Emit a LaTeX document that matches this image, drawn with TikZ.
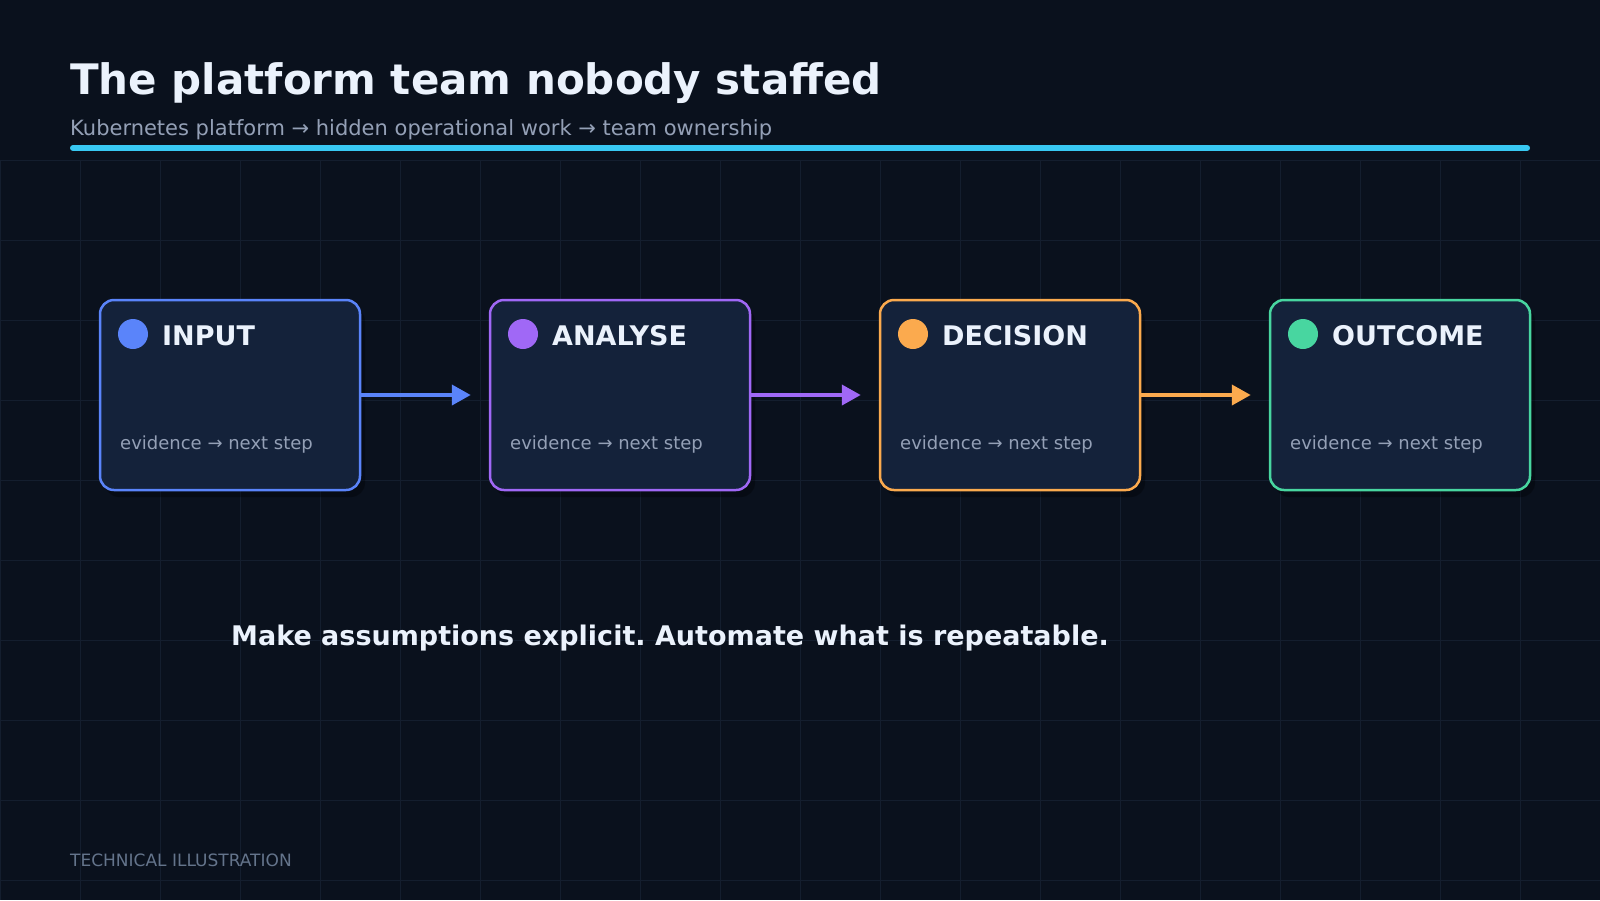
\documentclass[tikz,border=0pt]{standalone}
\usepackage{fontspec}
\setmainfont{DejaVu Sans}
\definecolor{bgnavy}{RGB}{10, 17, 29}
\definecolor{gridc}{RGB}{20, 30, 46}
\definecolor{boxfill}{RGB}{20, 34, 58}
\definecolor{textwhite}{RGB}{235, 242, 252}
\definecolor{textgray}{RGB}{148, 160, 182}
\definecolor{footgray}{RGB}{100, 116, 139}
\definecolor{accentcyan}{RGB}{56, 200, 242}
\definecolor{stageblue}{RGB}{90, 132, 250}
\definecolor{stagepurple}{RGB}{160, 104, 246}
\definecolor{stageorange}{RGB}{251, 170, 78}
\definecolor{stagegreen}{RGB}{72, 214, 160}
\usetikzlibrary{arrows.meta, positioning, calc, shadows}
\frenchspacing

\tikzset{
  stagebox/.style={draw=#1, line width=2.5pt, fill=boxfill, rounded corners=14pt,
    minimum width=260pt, minimum height=190pt, inner sep=0pt,
    drop shadow={shadow xshift=5pt, shadow yshift=-7pt, opacity=0.3, fill=black}},
  stagedot/.style={circle, fill=#1, minimum size=30pt, inner sep=0pt},
  stagetitle/.style={anchor=base west, inner sep=0pt, text=textwhite,
    font=\fontsize{27}{31}\selectfont\bfseries},
  stagenote/.style={anchor=base west, inner sep=0pt, text=textgray,
    font=\fontsize{18}{22}\selectfont},
  flow/.style={draw=#1, line width=4pt, shorten >=18pt,
    -{Triangle[length=19pt, width=20pt]}}
}

\begin{document}
\begin{tikzpicture}[x=1pt, y=-1pt]
  \useasboundingbox (0,0) rectangle (1600,900);
  \fill[bgnavy] (0,0) rectangle (1600,900);

  % Background grid
  \foreach \gx in {0,80,...,1600} \draw[gridc, line width=1pt] (\gx,160) -- (\gx,900);
  \foreach \gy in {160,240,...,880} \draw[gridc, line width=1pt] (0,\gy) -- (1600,\gy);

  % Header
  \node[anchor=base west, inner sep=0pt, text=textwhite, font=\fontsize{42}{48}\selectfont\bfseries] (title) at (70, 94) {The platform team nobody staffed};
  \node[anchor=base west, inner sep=0pt, text=textgray, font=\fontsize{21}{25}\selectfont] (subtitle) at (70, 135) {Kubernetes platform → hidden operational work → team ownership};
  \draw[accentcyan, line width=6pt, line cap=round] (73, 148) -- (1527, 148);

  % Stage boxes
  \node[stagebox=stageblue] (b1) at (230, 395) {};
  \node[stagebox=stagepurple] (b2) at (620, 395) {};
  \node[stagebox=stageorange] (b3) at (1010, 395) {};
  \node[stagebox=stagegreen] (b4) at (1400, 395) {};

  \node[stagedot=stageblue] (b1dot) at (133, 334) {};
  \node[stagetitle] (b1title) at (162, 345) {INPUT};
  \node[stagenote] (b1note) at (120, 449) {evidence → next step};

  \node[stagedot=stagepurple] (b2dot) at (523, 334) {};
  \node[stagetitle] (b2title) at (552, 345) {ANALYSE};
  \node[stagenote] (b2note) at (510, 449) {evidence → next step};

  \node[stagedot=stageorange] (b3dot) at (913, 334) {};
  \node[stagetitle] (b3title) at (942, 345) {DECISION};
  \node[stagenote] (b3note) at (900, 449) {evidence → next step};

  \node[stagedot=stagegreen] (b4dot) at (1303, 334) {};
  \node[stagetitle] (b4title) at (1332, 345) {OUTCOME};
  \node[stagenote] (b4note) at (1290, 449) {evidence → next step};

  \draw[flow=stageblue] (b1) -- (b2);
  \draw[flow=stagepurple] (b2) -- (b3);
  \draw[flow=stageorange] (b3) -- (b4);

  % Takeaway
  \node[anchor=base west, inner sep=0pt, text=textwhite, font=\fontsize{27}{32}\selectfont\bfseries] (takeaway) at (231, 645) {Make assumptions explicit. Automate what is repeatable.};

  % Footer
  \node[anchor=base west, inner sep=0pt, text=footgray, font=\fontsize{17}{20}\selectfont] (footer) at (70, 866) {TECHNICAL ILLUSTRATION};
\end{tikzpicture}
\end{document}
